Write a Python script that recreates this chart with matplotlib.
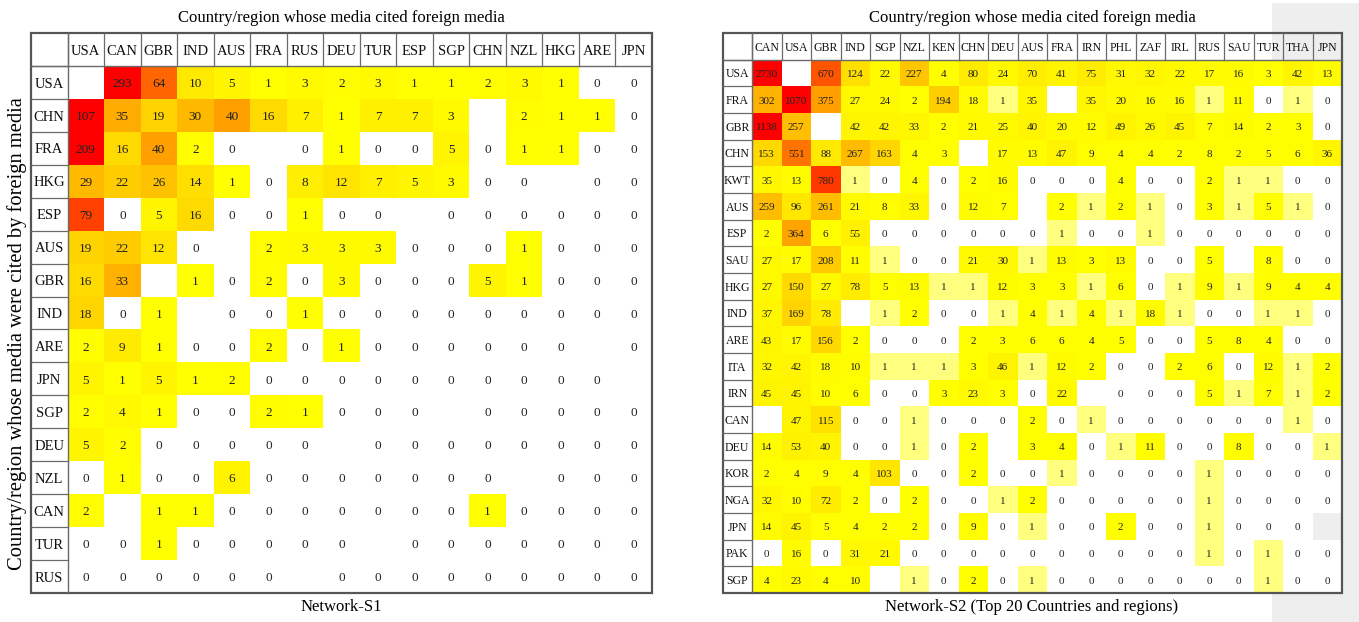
import numpy as np
import matplotlib
matplotlib.use("Agg")
import matplotlib.pyplot as plt
from matplotlib.colors import LinearSegmentedColormap, Normalize
from matplotlib.patches import Rectangle

# ---------------- data ----------------
B = None  # blank (self-citation) cell

s1_cols = ["USA", "CAN", "GBR", "IND", "AUS", "FRA", "RUS", "DEU", "TUR", "ESP",
           "SGP", "CHN", "NZL", "HKG", "ARE", "JPN"]
s1_rows = ["USA", "CHN", "FRA", "HKG", "ESP", "AUS", "GBR", "IND", "ARE", "JPN",
           "SGP", "DEU", "NZL", "CAN", "TUR", "RUS"]
s1_values = [
    [B, 293, 64, 10, 5, 1, 3, 2, 3, 1, 1, 2, 3, 1, 0, 0],
    [107, 35, 19, 30, 40, 16, 7, 1, 7, 7, 3, B, 2, 1, 1, 0],
    [209, 16, 40, 2, 0, B, 0, 1, 0, 0, 5, 0, 1, 1, 0, 0],
    [29, 22, 26, 14, 1, 0, 8, 12, 7, 5, 3, 0, 0, B, 0, 0],
    [79, 0, 5, 16, 0, 0, 1, 0, 0, B, 0, 0, 0, 0, 0, 0],
    [19, 22, 12, 0, B, 2, 3, 3, 3, 0, 0, 0, 1, 0, 0, 0],
    [16, 33, B, 1, 0, 2, 0, 3, 0, 0, 0, 5, 1, 0, 0, 0],
    [18, 0, 1, B, 0, 0, 1, 0, 0, 0, 0, 0, 0, 0, 0, 0],
    [2, 9, 1, 0, 0, 2, 0, 1, 0, 0, 0, 0, 0, 0, B, 0],
    [5, 1, 5, 1, 2, 0, 0, 0, 0, 0, 0, 0, 0, 0, 0, B],
    [2, 4, 1, 0, 0, 2, 1, 0, 0, 0, B, 0, 0, 0, 0, 0],
    [5, 2, 0, 0, 0, 0, 0, B, 0, 0, 0, 0, 0, 0, 0, 0],
    [0, 1, 0, 0, 6, 0, 0, 0, 0, 0, 0, 0, B, 0, 0, 0],
    [2, B, 1, 1, 0, 0, 0, 0, 0, 0, 0, 1, 0, 0, 0, 0],
    [0, 0, 1, 0, 0, 0, 0, 0, B, 0, 0, 0, 0, 0, 0, 0],
    [0, 0, 0, 0, 0, 0, B, 0, 0, 0, 0, 0, 0, 0, 0, 0],
]

s2_cols = ["CAN", "USA", "GBR", "IND", "SGP", "NZL", "KEN", "CHN", "DEU", "AUS",
           "FRA", "IRN", "PHL", "ZAF", "IRL", "RUS", "SAU", "TUR", "THA", "JPN"]
s2_rows = ["USA", "FRA", "GBR", "CHN", "KWT", "AUS", "ESP", "SAU", "HKG", "IND",
           "ARE", "ITA", "IRN", "CAN", "DEU", "KOR", "NGA", "JPN", "PAK", "SGP"]
s2_values = [
    [2730, B, 670, 124, 22, 227, 4, 80, 24, 70, 41, 75, 31, 32, 22, 17, 16, 3, 42, 13],
    [302, 1070, 375, 27, 24, 2, 194, 18, 1, 35, B, 35, 20, 16, 16, 1, 11, 0, 1, 0],
    [1138, 257, B, 42, 42, 33, 2, 21, 25, 40, 20, 12, 49, 26, 45, 7, 14, 2, 3, 0],
    [153, 551, 88, 267, 163, 4, 3, B, 17, 13, 47, 9, 4, 4, 2, 8, 2, 5, 6, 36],
    [35, 13, 780, 1, 0, 4, 0, 2, 16, 0, 0, 0, 4, 0, 0, 2, 1, 1, 0, 0],
    [259, 96, 261, 21, 8, 33, 0, 12, 7, B, 2, 1, 2, 1, 0, 3, 1, 5, 1, 0],
    [2, 364, 6, 55, 0, 0, 0, 0, 0, 0, 1, 0, 0, 1, 0, 0, 0, 0, 0, 0],
    [27, 17, 208, 11, 1, 0, 0, 21, 30, 1, 13, 3, 13, 0, 0, 5, B, 8, 0, 0],
    [27, 150, 27, 78, 5, 13, 1, 1, 12, 3, 3, 1, 6, 0, 1, 9, 1, 9, 4, 4],
    [37, 169, 78, B, 1, 2, 0, 0, 1, 4, 1, 4, 1, 18, 1, 0, 0, 1, 1, 0],
    [43, 17, 156, 2, 0, 0, 0, 2, 3, 6, 6, 4, 5, 0, 0, 5, 8, 4, 0, 0],
    [32, 42, 18, 10, 1, 1, 1, 3, 46, 1, 12, 2, 0, 0, 2, 6, 0, 12, 1, 2],
    [45, 45, 10, 6, 0, 0, 3, 23, 3, 0, 22, B, 0, 0, 0, 5, 1, 7, 1, 2],
    [B, 47, 115, 0, 0, 1, 0, 0, 0, 2, 0, 1, 0, 0, 0, 0, 0, 0, 1, 0],
    [14, 53, 40, 0, 0, 1, 0, 2, B, 3, 4, 0, 1, 11, 0, 0, 8, 0, 0, 1],
    [2, 4, 9, 4, 103, 0, 0, 2, 0, 0, 1, 0, 0, 0, 0, 1, 0, 0, 0, 0],
    [32, 10, 72, 2, 0, 2, 0, 0, 1, 2, 0, 0, 0, 0, 0, 1, 0, 0, 0, 0],
    [14, 45, 5, 4, 2, 2, 0, 9, 0, 1, 0, 0, 2, 0, 0, 1, 0, 0, 0, B],
    [0, 16, 0, 31, 21, 0, 0, 0, 0, 0, 0, 0, 0, 0, 0, 1, 0, 1, 0, 0],
    [4, 23, 4, 10, B, 1, 0, 2, 0, 1, 0, 0, 0, 0, 0, 0, 0, 1, 0, 0],
]

title_top = "Country/region whose media cited foreign media"
ylabel_left = "Country/region whose media were cited by foreign media"
s1_caption = "Network-S1"
s2_caption = "Network-S2 (Top 20 Countries and regions)"

# ---------------- figure ----------------
W, H = 1359, 622
fig = plt.figure(figsize=(W / 100, H / 100), dpi=100)
fig.patch.set_facecolor("white")
SERIF = ["Liberation Serif", "DejaVu Serif"]

# light grey page band at the right edge
fig.patches.append(Rectangle((1272 / W, 0), (W - 1272) / W, 1 - 3 / H,
                             transform=fig.transFigure, facecolor="#eeeeee",
                             edgecolor="none", zorder=-10))


def make_cmap(mid, vmax):
    return LinearSegmentedColormap.from_list(
        "wyr", [(0.0, "#ffffff"), (mid / vmax, "#ffff00"), (1.0, "#ff0000")],
        N=20000)


def draw_table(box, cols, rows, values, mid, vmax, fs_head, fs_num):
    x0, y0, x1, y1 = box
    ax = fig.add_axes([x0 / W, 1 - y1 / H, (x1 - x0) / W, (y1 - y0) / H])
    ax.patch.set_facecolor("none")
    n_r, n_c = len(rows), len(cols)
    data = np.array([[np.nan if v is None else v for v in r] for r in values], float)
    cmap = make_cmap(mid, vmax)
    cmap.set_bad((0, 0, 0, 0))
    ax.pcolormesh(np.arange(n_c + 1), np.arange(n_r + 1), np.ma.masked_invalid(data),
                  cmap=cmap, norm=Normalize(0, vmax, clip=True),
                  edgecolors="none", antialiased=False, snap=True)
    ax.set_xlim(-1, n_c)
    ax.set_ylim(n_r, -1)
    ax.axis("off")
    # numbers
    for i in range(n_r):
        for j in range(n_c):
            v = values[i][j]
            if v is None:
                continue
            ax.text(j + 0.5, i + 0.55, str(v), ha="center", va="center",
                    fontsize=fs_num, family=SERIF, color="#222222", zorder=5)
    # header labels
    for j, c in enumerate(cols):
        ax.text(j + 0.5, -0.45, c, ha="center", va="center", fontsize=fs_head,
                family=SERIF, color="#111111")
    for i, r in enumerate(rows):
        ax.text(-0.5, i + 0.55, r, ha="center", va="center", fontsize=fs_head,
                family=SERIF, color="#111111")
    # grid of header cells
    lc = "#6a6a6a"
    for j in range(n_c):
        ax.plot([j, j], [-1, 0], color=lc, lw=0.9, clip_on=False)
    for i in range(n_r):
        ax.plot([-1, 0], [i, i], color=lc, lw=0.9, clip_on=False)
    ax.plot([-1, n_c], [0, 0], color=lc, lw=1.0, clip_on=False)
    ax.plot([0, 0], [-1, n_r], color=lc, lw=1.0, clip_on=False)
    ax.add_patch(Rectangle((-1, -1), n_c + 1, n_r + 1, fill=False,
                           edgecolor="#555555", lw=1.6, clip_on=False))
    return ax


draw_table((31, 33, 652, 593), s1_cols, s1_rows, s1_values, 1, 105, 10.5, 9.5)
draw_table((722.5, 33, 1342, 593), s2_cols, s2_rows, s2_values, 2, 1000, 8.5, 8)

fig.text(341 / W, 1 - 18 / H, title_top, ha="center", va="center",
         fontsize=12, family=SERIF)
fig.text(1032 / W, 1 - 18 / H, title_top, ha="center", va="center",
         fontsize=12, family=SERIF)
fig.text(341 / W, 1 - 607 / H, s1_caption, ha="center", va="center",
         fontsize=12, family=SERIF)
fig.text(1032 / W, 1 - 607 / H, s2_caption, ha="center", va="center",
         fontsize=12, family=SERIF)
fig.text(17 / W, 1 - 334 / H, ylabel_left, ha="center", va="center",
         rotation=90, fontsize=14.8, family=SERIF)

fig.savefig("out.png", dpi=100)
